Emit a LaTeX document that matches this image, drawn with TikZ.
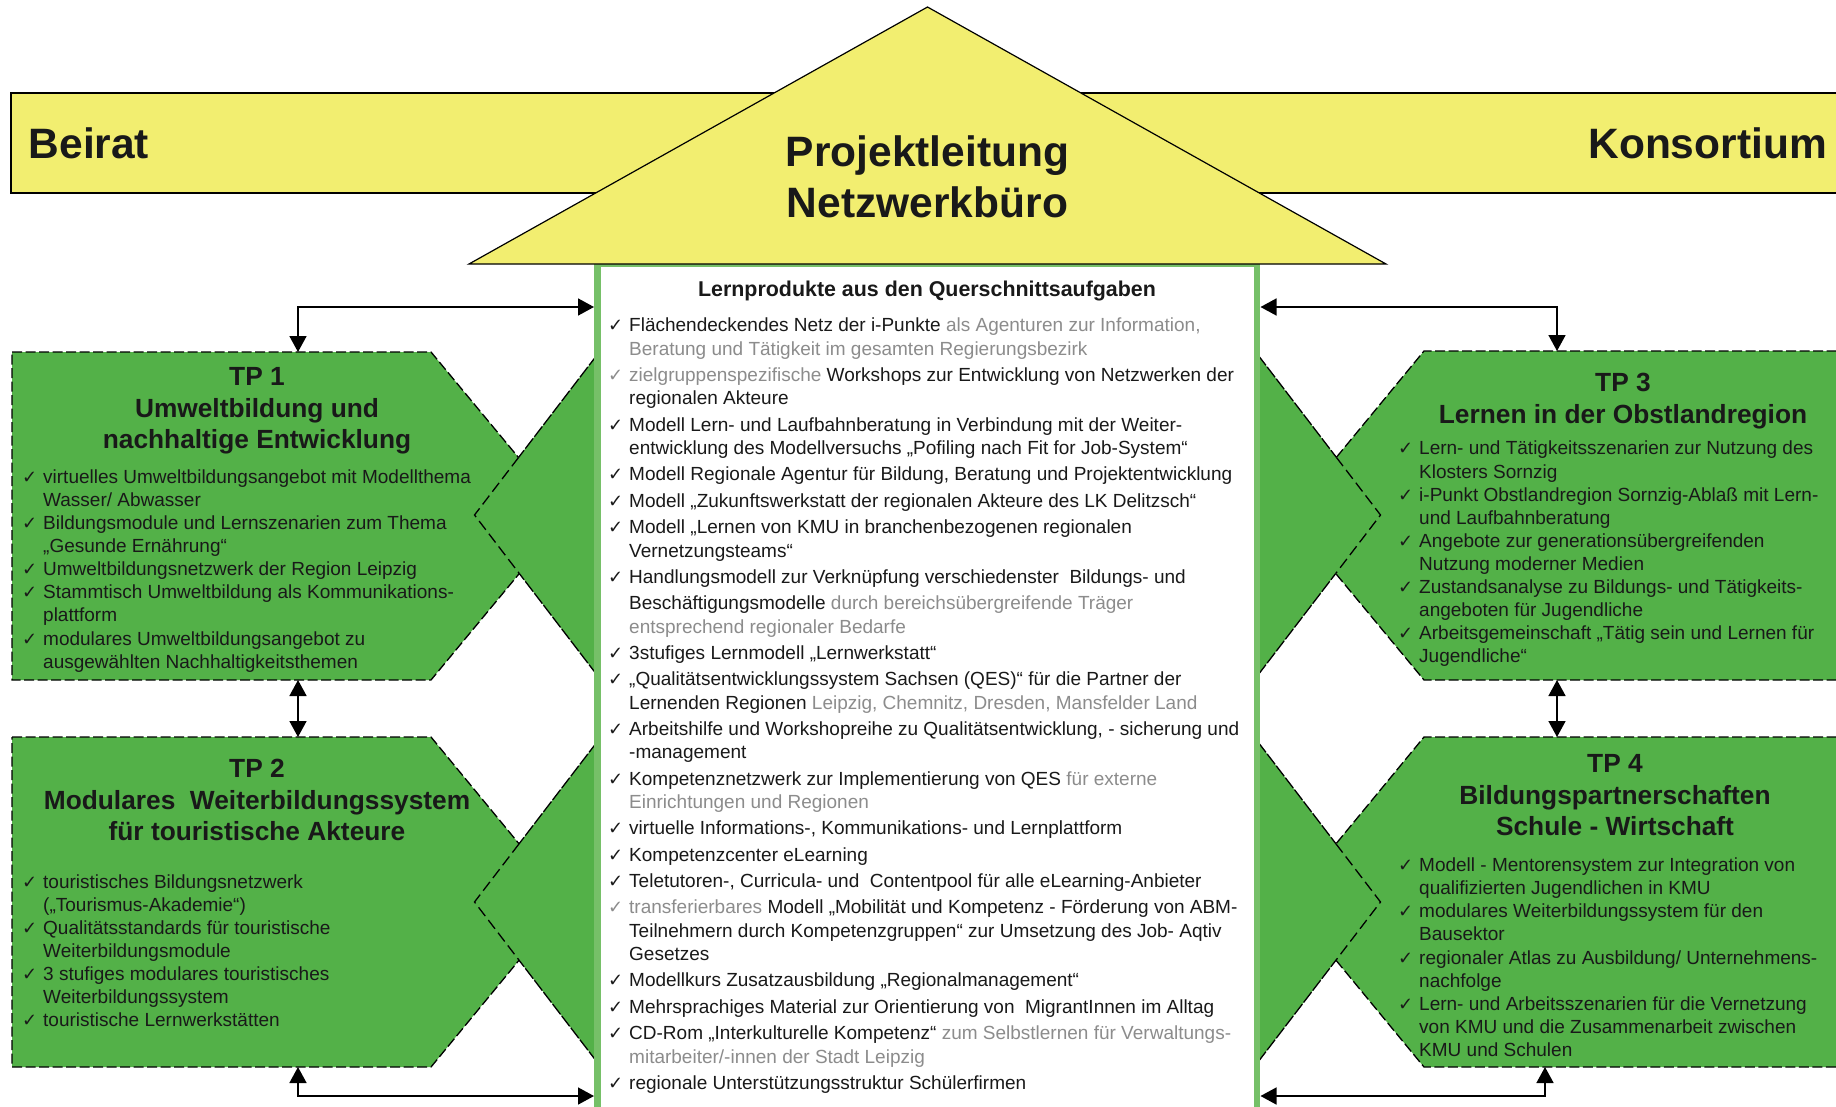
\documentclass[tikz,border=0pt]{standalone}
\usepackage{fontspec}
\setmainfont{Liberation Sans}
\newfontfamily\checkfont{DejaVu Sans}
\usetikzlibrary{arrows.meta}
\definecolor{banner}{RGB}{242,238,112}
\definecolor{tpgreen}{RGB}{83,177,72}
\definecolor{rimgreen}{RGB}{118,192,104}
\definecolor{softgray}{RGB}{140,140,140}
\definecolor{ink}{RGB}{25,25,25}
\newcommand{\chk}{\makebox[21pt][l]{\fontsize{18}{18}\checkfont ✓}}
\newcommand{\gchk}{\makebox[21pt][l]{\color{softgray}\fontsize{18}{18}\checkfont ✓}}
\newcommand{\chkind}{\hspace*{21pt}}
\newcommand{\grau}[1]{\textcolor{softgray}{#1}}

\begin{document}
\begin{tikzpicture}[>={Triangle[length=16pt,width=17pt]},x=1pt,y=-1pt,inner sep=0pt,text=ink]
            \path[use as bounding box,clip] (0,0) rectangle (1836,1106);
            \tikzset{tpbox/.style={fill=tpgreen,draw=black,line width=1.3pt,dash pattern=on 10pt off 3.5pt}}
            \tikzset{wedgeline/.style={draw=black,line width=1.3pt,dash pattern=on 13pt off 2pt}}
            \tikzset{wedgedash/.style={draw=black,line width=1.3pt,dash pattern=on 11pt off 5pt}}
            \tikzset{bigtxt/.style={font=\bfseries\fontsize{42.5}{51}\selectfont}}
            \tikzset{headtxt/.style={font=\bfseries\fontsize{26.3}{31.5}\selectfont,align=center,anchor=north}}
            \tikzset{itemtxt/.style={font=\fontsize{19}{23.1}\selectfont,align=left,anchor=north west}}
            \tikzset{link/.style={<->,line width=1.6pt}}
            % Beirat / Konsortium
            \draw[fill=banner,line width=1.4pt] (11,93) rectangle (1850,193);
            % Teilprojekte links
            \coordinate (t1a) at (12,352);   \coordinate (t1b) at (431,352);
            \coordinate (t1c) at (567,516);  \coordinate (t1d) at (431,680);
            \coordinate (t1e) at (12,680);
            \coordinate (t2a) at (12,737);   \coordinate (t2b) at (431,737);
            \coordinate (t2c) at (567,902);  \coordinate (t2d) at (431,1067);
            \coordinate (t2e) at (12,1067);
            % Teilprojekte rechts
            \coordinate (t3a) at (1850,351); \coordinate (t3b) at (1424,351);
            \coordinate (t3c) at (1288,516); \coordinate (t3d) at (1424,680);
            \coordinate (t3e) at (1850,680);
            \coordinate (t4a) at (1850,737); \coordinate (t4b) at (1424,737);
            \coordinate (t4c) at (1288,902); \coordinate (t4d) at (1424,1067);
            \coordinate (t4e) at (1850,1067);
            \draw[tpbox] (t1a) -- (t1b) -- (t1c) -- (t1d) -- (t1e) -- cycle;
            \draw[tpbox] (t2a) -- (t2b) -- (t2c) -- (t2d) -- (t2e) -- cycle;
            \draw[tpbox] (t3a) -- (t3b) -- (t3c) -- (t3d) -- (t3e) -- cycle;
            \draw[tpbox] (t4a) -- (t4b) -- (t4c) -- (t4d) -- (t4e) -- cycle;
            % Keile am Mittelfeld
            \coordinate (w1a) at (597,355);  \coordinate (w1b) at (474.5,515); \coordinate (w1c) at (597,675);
            \coordinate (w2a) at (597,742);  \coordinate (w2b) at (474.5,902); \coordinate (w2c) at (597,1062);
            \coordinate (w3a) at (1258,355); \coordinate (w3b) at (1380.5,515); \coordinate (w3c) at (1258,675);
            \coordinate (w4a) at (1258,742); \coordinate (w4b) at (1380.5,902); \coordinate (w4c) at (1258,1062);
            \fill[tpgreen] (w1a) -- (w1b) -- (w1c) -- cycle;
            \fill[tpgreen] (w2a) -- (w2b) -- (w2c) -- cycle;
            \fill[tpgreen] (w3a) -- (w3b) -- (w3c) -- cycle;
            \fill[tpgreen] (w4a) -- (w4b) -- (w4c) -- cycle;
            \coordinate (x1u) at (intersection of t1b--t1c and w1a--w1b);
            \coordinate (x1d) at (intersection of t1c--t1d and w1b--w1c);
            \coordinate (x2u) at (intersection of t2b--t2c and w2a--w2b);
            \coordinate (x2d) at (intersection of t2c--t2d and w2b--w2c);
            \coordinate (x3u) at (intersection of t3b--t3c and w3a--w3b);
            \coordinate (x3d) at (intersection of t3c--t3d and w3b--w3c);
            \coordinate (x4u) at (intersection of t4b--t4c and w4a--w4b);
            \coordinate (x4d) at (intersection of t4c--t4d and w4b--w4c);
            \draw[wedgeline] (w1a) -- (x1u) (w1c) -- (x1d);
            \draw[wedgeline] (w2a) -- (x2u) (w2c) -- (x2d);
            \draw[wedgeline] (w3a) -- (x3u) (w3c) -- (x3d);
            \draw[wedgeline] (w4a) -- (x4u) (w4c) -- (x4d);
            \draw[wedgedash] (x1u) -- (w1b) -- (x1d);
            \draw[wedgedash] (x2u) -- (w2b) -- (x2d);
            \draw[wedgedash] (x3u) -- (w3b) -- (x3d);
            \draw[wedgedash] (x4u) -- (w4b) -- (x4d);
            % Mittelfeld und Dach
            \draw[fill=white,draw=rimgreen,line width=6.5pt] (597.5,264) rectangle (1257,1125);
            \draw[fill=banner,line width=1.2pt] (469,264) -- (927.5,7) -- (1386,264) -- cycle;
            \node[bigtxt,anchor=base west] (beirat) at (28.5,158) {Beirat};
            \node[bigtxt,anchor=base east] (konsortium) at (1827,158) {Konsortium};
            \node[bigtxt,align=center,anchor=north] (leitung) at (927.5,130.3) {\strut Projektleitung\\Netzwerkbüro};
            % Texte
            \node[headtxt] (tp1head) at (257,363.4) {\strut TP 1\\Umweltbildung und\\nachhaltige Entwicklung};
            \node[itemtxt] (tp1list) at (22,467) {%
              \strut\chk virtuelles Umweltbildungsangebot mit Modellthema\\
              \chkind Wasser/ Abwasser\\
              \chk Bildungsmodule und Lernszenarien zum Thema\\
              \chkind „Gesunde Ernährung“\\
              \chk Umweltbildungsnetzwerk der Region Leipzig\\
              \chk Stammtisch Umweltbildung als Kommunikations-\\
              \chkind plattform\\
              \chk modulares Umweltbildungsangebot zu\\
              \chkind ausgewählten Nachhaltigkeitsthemen};
            \node[headtxt] (tp2head) at (257,755.7) {\strut TP 2\\Modulares\ \ Weiterbildungssystem\\für touristische Akteure};
            \node[itemtxt] (tp2list) at (22,872) {%
              \strut\chk touristisches Bildungsnetzwerk\\
              \chkind („Tourismus-Akademie“)\\
              \chk Qualitätsstandards für touristische\\
              \chkind Weiterbildungsmodule\\
              \chk 3 stufiges modulares touristisches\\
              \chkind Weiterbildungssystem\\
              \chk touristische Lernwerkstätten};
            \node[headtxt] (tp3head) at (1623,369.5) {\strut TP 3\\Lernen in der Obstlandregion};
            \node[itemtxt] (tp3list) at (1398,438.6) {%
              \strut\chk Lern- und Tätigkeitsszenarien zur Nutzung des\\
              \chkind Klosters Sornzig\\
              \chk i-Punkt Obstlandregion Sornzig-Ablaß mit Lern-\\
              \chkind und Laufbahnberatung\\
              \chk Angebote zur generationsübergreifenden\\
              \chkind Nutzung moderner Medien\\
              \chk Zustandsanalyse zu Bildungs- und Tätigkeits-\\
              \chkind angeboten für Jugendliche\\
              \chk Arbeitsgemeinschaft „Tätig sein und Lernen für\\
              \chkind Jugendliche“};
            \node[headtxt] (tp4head) at (1615,750.5) {\strut TP 4\\Bildungspartnerschaften\\Schule - Wirtschaft};
            \node[itemtxt] (tp4list) at (1398,855.3) {%
              \strut\chk Modell - Mentorensystem zur Integration von\\
              \chkind qualifizierten Jugendlichen in KMU\\
              \chk modulares Weiterbildungssystem für den\\
              \chkind Bausektor\\
              \chk regionaler Atlas zu Ausbildung/ Unternehmens-\\
              \chkind nachfolge\\
              \chk Lern- und Arbeitsszenarien für die Vernetzung\\
              \chkind von KMU und die Zusammenarbeit zwischen\\
              \chkind KMU und Schulen};
            \node[font=\bfseries\fontsize{21.4}{25}\selectfont,anchor=base] (lerntitle) at (927,296) {Lernprodukte aus den Querschnittsaufgaben};
            \node[itemtxt,font=\fontsize{19}{23.35}\selectfont] (lernlist) at (608,315.3) {%
              \strut\chk Flächendeckendes Netz der i-Punkte \grau{als Agenturen zur Information,}\\
              \chkind\grau{Beratung und Tätigkeit im gesamten Regierungsbezirk}\\[3pt]
              \gchk\grau{zielgruppenspezifische} Workshops zur Entwicklung von Netzwerken der\\
              \chkind regionalen Akteure\\[3pt]
              \chk Modell Lern- und Laufbahnberatung in Verbindung mit der Weiter-\\
              \chkind entwicklung des Modellversuchs „Pofiling nach Fit for Job-System“\\[3pt]
              \chk Modell Regionale Agentur für Bildung, Beratung und Projektentwicklung\\[3pt]
              \chk Modell „Zukunftswerkstatt der regionalen Akteure des LK Delitzsch“\\[3pt]
              \chk Modell „Lernen von KMU in branchenbezogenen regionalen\\
              \chkind Vernetzungsteams“\\[3pt]
              \chk Handlungsmodell zur Verknüpfung verschiedenster\ \ Bildungs- und\\[3pt]
              \chkind Beschäftigungsmodelle \grau{durch bereichsübergreifende Träger}\\
              \chkind\grau{entsprechend regionaler Bedarfe}\\[3pt]
              \chk 3stufiges Lernmodell „Lernwerkstatt“\\[3pt]
              \chk „Qualitätsentwicklungssystem Sachsen (QES)“ für die Partner der\\
              \chkind Lernenden Regionen \grau{Leipzig, Chemnitz, Dresden, Mansfelder Land}\\[3pt]
              \chk Arbeitshilfe und Workshopreihe zu Qualitätsentwicklung, - sicherung und\\
              \chkind -management\\[3pt]
              \chk Kompetenznetzwerk zur Implementierung von QES \grau{für externe}\\
              \chkind\grau{Einrichtungen und Regionen}\\[3pt]
              \chk virtuelle Informations-, Kommunikations- und Lernplattform\\[3pt]
              \chk Kompetenzcenter eLearning\\[3pt]
              \chk Teletutoren-, Curricula- und\ \ Contentpool für alle eLearning-Anbieter\\[3pt]
              \gchk\grau{transferierbares} Modell „Mobilität und Kompetenz - Förderung von ABM-\\
              \chkind Teilnehmern durch Kompetenzgruppen“ zur Umsetzung des Job- Aqtiv\\
              \chkind Gesetzes\\[3pt]
              \chk Modellkurs Zusatzausbildung „Regionalmanagement“\\[3pt]
              \chk Mehrsprachiges Material zur Orientierung von\ \ MigrantInnen im Alltag\\[3pt]
              \chk CD-Rom „Interkulturelle Kompetenz“ \grau{zum Selbstlernen für Verwaltungs-}\\
              \chkind\grau{mitarbeiter/-innen der Stadt Leipzig}\\[3pt]
              \chk regionale Unterstützungsstruktur Schülerfirmen};
            % Verbindungen
            \coordinate (tp1n) at (298,352);   \coordinate (tp1s) at (298,680);
            \coordinate (tp2n) at (298,737);   \coordinate (tp2s) at (298,1067);
            \coordinate (tp3n) at (1557,351);  \coordinate (tp3s) at (1557,680);
            \coordinate (tp4n) at (1557,737);  \coordinate (tp4s) at (1545,1067);
            \coordinate (boxwt) at (594,307);  \coordinate (boxet) at (1260.5,307);
            \coordinate (boxwb) at (594,1096); \coordinate (boxeb) at (1260.5,1096);
            \draw[link] (tp1n) |- (boxwt);
            \draw[link] (tp3n) |- (boxet);
            \draw[link] (tp1s) -- (tp2n);
            \draw[link] (tp3s) -- (tp4n);
            \draw[link] (tp2s) |- (boxwb);
            \draw[link] (tp4s) |- (boxeb);
        \end{tikzpicture}
\end{document}
